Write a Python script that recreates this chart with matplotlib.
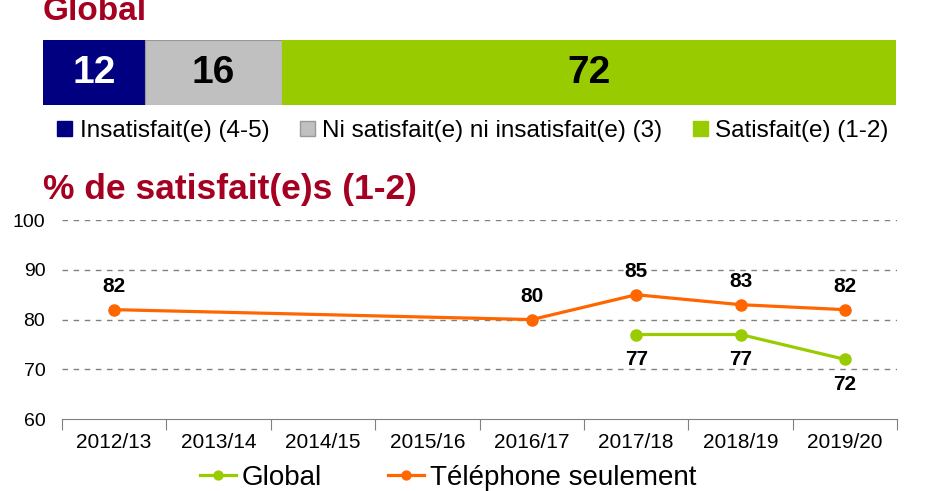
import matplotlib.pyplot as plt
from matplotlib.patches import Patch

plt.rcParams['font.family'] = ['Liberation Sans', 'DejaVu Sans']

# top stacked bar
bar_labels = ['Insatisfait(e) (4-5)', 'Ni satisfait(e) ni insatisfait(e) (3)', 'Satisfait(e) (1-2)']
bar_values = [12, 16, 72]
bar_colors = ['#000080', '#C0C0C0', '#99CC00']
bar_text_colors = ['white', 'black', 'black']

# trend lines
years = ['2012/13', '2013/14', '2014/15', '2015/16', '2016/17', '2017/18', '2018/19', '2019/20']
tel_idx = [0, 4, 5, 6, 7]
tel_vals = [82, 80, 85, 83, 82]
glob_idx = [5, 6, 7]
glob_vals = [77, 77, 72]

red = '#A50021'
orange = '#FF6600'
green = '#99CC00'

fig = plt.figure(figsize=(9.29, 4.91), dpi=100)

# title is partly cropped at the top edge, as in the original
fig.text(0.046, 0.96, 'Global', color=red, fontsize=24, fontweight='bold', va='baseline')

axb = fig.add_axes([0.0463, 0.786, 0.918, 0.132])
left = 0
for v, c, tc in zip(bar_values, bar_colors, bar_text_colors):
    axb.barh(0, v, left=left, color=c, height=1, edgecolor='#999999' if c == '#C0C0C0' else c, linewidth=0.8)
    axb.text(left + v / 2, 0, str(v), ha='center', va='center', color=tc, fontsize=28, fontweight='bold')
    left += v
axb.set_xlim(0, 100)
axb.set_ylim(-0.5, 0.5)
axb.axis('off')

handles = [Patch(facecolor=c, edgecolor='#999999' if c == '#C0C0C0' else c) for c in bar_colors]
fig.legend(handles, bar_labels, loc='center', bbox_to_anchor=(0.509, 0.733), ncol=3, frameon=False,
           fontsize=17.5, handlelength=0.62, handleheight=0.62, handletextpad=0.3, columnspacing=1.25,
           borderpad=0, borderaxespad=0)

fig.text(0.046, 0.615, '% de satisfait(e)s (1-2)', color=red, fontsize=25.5, fontweight='bold', va='center')

ax = fig.add_axes([0.0667, 0.1466, 0.899, 0.405])
x = list(range(len(years)))
ax.plot(glob_idx, glob_vals, color=green, lw=2.3, marker='o', ms=8, label='Global', zorder=3)
ax.plot(tel_idx, tel_vals, color=orange, lw=2.3, marker='o', ms=8, label='Téléphone seulement', zorder=3)
for i, v in zip(tel_idx, tel_vals):
    ax.annotate(str(v), (i, v), xytext=(0, 10), textcoords='offset points', ha='center', va='bottom',
                fontsize=15, fontweight='bold')
for i, v in zip(glob_idx, glob_vals):
    ax.annotate(str(v), (i, v), xytext=(0, -11), textcoords='offset points', ha='center', va='top',
                fontsize=15, fontweight='bold')

ax.set_xlim(-0.5, 7.5)
ax.set_ylim(60, 100)
ax.set_yticks([60, 70, 80, 90, 100])
for yv in [70, 80, 90, 100]:
    ax.axhline(yv, color='#808080', lw=1, ls=(0, (4, 4)), zorder=1)
ax.set_xticks([i - 0.5 for i in range(len(years) + 1)])
ax.set_xticklabels([])
ax.set_xticks(x, minor=True)
ax.set_xticklabels(years, minor=True, fontsize=15)
ax.tick_params(axis='x', which='major', length=8, color='#808080', direction='out')
ax.tick_params(axis='x', which='minor', length=0, pad=10)
ax.tick_params(axis='y', length=0, labelsize=14, pad=12)
for s in ['top', 'right', 'left']:
    ax.spines[s].set_visible(False)
ax.spines['bottom'].set_color('#808080')

ax.legend(loc='center', bbox_to_anchor=(0.462, -0.295), ncol=2, frameon=False, fontsize=20,
          handlelength=1.3, handletextpad=0.2, columnspacing=2.4, markerscale=0.8, borderpad=0)

fig.savefig('out.png', dpi=100)
